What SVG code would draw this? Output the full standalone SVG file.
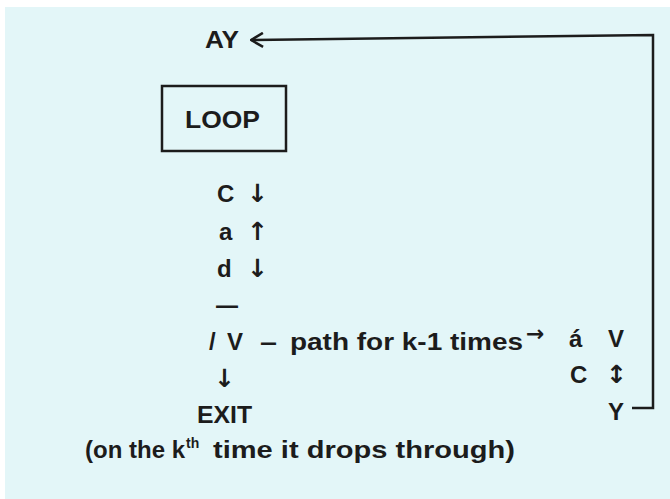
<svg xmlns="http://www.w3.org/2000/svg" width="670" height="499" viewBox="0 0 670 499">
<style>
.t{font-family:"Liberation Sans",Arial,sans-serif;font-weight:bold;font-size:24px;fill:#1c1c1c}
.ar{font-family:"DejaVu Sans",sans-serif;font-weight:bold;font-size:25px;fill:#1c1c1c}
.ln{fill:none;stroke:#1c1c1c;stroke-width:2.5;stroke-linejoin:miter}
</style>
<defs>
<marker id="ah" markerWidth="14" markerHeight="16" refX="13" refY="8" orient="auto" markerUnits="userSpaceOnUse">
<path d="M1,1 L13,8 L1,15" fill="none" stroke="#1c1c1c" stroke-width="2.5"/>
</marker>
</defs>
<rect x="0" y="0" width="670" height="499" fill="#ffffff"/>
<rect x="5" y="7" width="665" height="492" fill="#e3f6f8"/>
<g id="connectors">
<polyline class="ln" points="632,408 653,408 653,35 251,40" marker-end="url(#ah)"/>
</g>
<g id="ay"><text class="t" x="205" y="48" textLength="34" lengthAdjust="spacingAndGlyphs">AY</text></g>
<g id="loop">
<rect x="162" y="86" width="124" height="65" fill="none" stroke="#1c1c1c" stroke-width="2.5"/>
<text class="t" x="185" y="128" textLength="75" lengthAdjust="spacingAndGlyphs">LOOP</text>
</g>
<g id="body">
<text class="t" x="217" y="202">C</text>
<text class="ar" x="247" y="202">↓&#xFE0E;</text>
<text class="t" x="219" y="240">a</text>
<text class="ar" x="247" y="240">↑&#xFE0E;</text>
<text class="t" x="217" y="277">d</text>
<text class="ar" x="247" y="277">↓&#xFE0E;</text>
<text class="t" x="216" y="313" textLength="22" lengthAdjust="spacingAndGlyphs">—</text>
<text class="t" x="209" y="350">/</text>
<text class="t" x="227" y="350">V</text>
<text class="t" x="260" y="350" textLength="17" lengthAdjust="spacingAndGlyphs">–</text>
<text class="t" x="290" y="350" textLength="233" lengthAdjust="spacingAndGlyphs">path for k-1 times</text>
<text class="ar" x="526" y="341" style="font-size:22px">→&#xFE0E;</text>
<text class="ar" x="214" y="387">↓&#xFE0E;</text>
</g>
<g id="exit">
<text class="t" x="197" y="423" textLength="55" lengthAdjust="spacingAndGlyphs">EXIT</text>
<text class="t" x="85" y="458">(on the k</text>
<text class="t" x="186" y="448" style="font-size:14px">th</text>
<text class="t" x="213" y="458" textLength="302" lengthAdjust="spacingAndGlyphs">time it drops through)</text>
</g>
<g id="right">
<text class="t" x="569" y="347">á</text>
<text class="t" x="608" y="347">V</text>
<text class="t" x="570" y="383">C</text>
<text class="ar" x="606" y="383">↕&#xFE0E;</text>
<text class="t" x="608" y="420">Y</text>
</g>
</svg>
